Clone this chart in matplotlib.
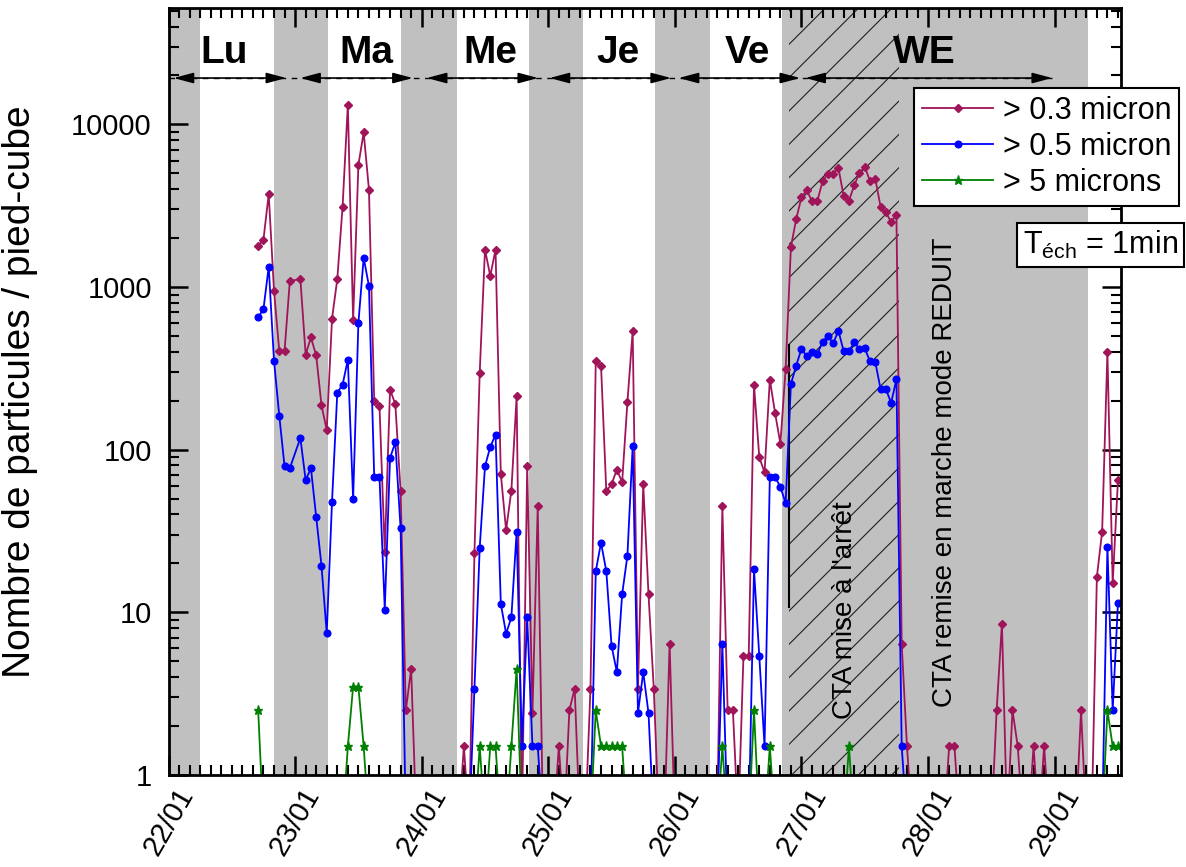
import numpy as np
import matplotlib
matplotlib.use('Agg')
import matplotlib.pyplot as plt
from matplotlib.lines import Line2D
from matplotlib.ticker import LogLocator, NullFormatter, MultipleLocator

plt.rcParams['font.family'] = ['Liberation Sans', 'DejaVu Sans']
plt.rcParams['mathtext.fontset'] = 'custom'
plt.rcParams['mathtext.rm'] = 'Liberation Sans'
plt.rcParams['hatch.linewidth'] = 0.8

# heures depuis le 22/01 00h (pas de mesure a 24h)
hours = list(range(17, 24)) + list(range(25, 181))

# > 0.3 micron
p03 = ([1780, 1955, 3730, 950, 405, 405, 1090]
       + [1120, 385, 490, 380, 188, 132, 640, 1120, 3120, 13200, 625, 5630,
          8930, 3980, 200, 186, 23.6, 234, 191, 56, 2.5, 4.5, 0]
       + [0] * 8 + [1.5, 0, 23.3, 297, 1700, 1170, 1700, 71, 32, 56, 213, 0,
                    79, 2.4, 45, 0]
       + [0, 0, 1.5, 0, 2.5, 3.4, 0, 0, 3.4, 349, 328, 55.5, 61.5, 75.5, 63,
          196, 535, 3.4, 61.5, 12.9, 3.4, 0, 0, 6.4]
       + [0] * 9 + [45, 2.5, 2.5, 0, 5.4, 5.4, 251, 90, 72.5, 270, 168, 109,
                    315, 1766, 2620]
       + [3570, 3945, 3374, 3374, 4480, 4990, 4990, 5410, 3620, 3400, 4220,
          5050, 5490, 4480, 4630, 3110, 2885, 2505, 2790, 6.4, 1.5, 0, 0, 0]
       + [0] * 4 + [1.5, 1.5] + [0] * 7 + [2.5, 8.5, 0, 2.5, 1.5, 0, 0, 1.5,
                                           0, 1.5, 0]
       + [0] * 5 + [2.5, 0, 0, 16.5, 31.4, 398, 15.1, 65])

# > 0.5 micron
p05 = ([653, 731, 1336, 353, 162, 79, 77]
       + [118, 65, 77, 38.7, 19.4, 7.45, 48, 224, 251, 358, 49.6, 600, 1514,
          1016, 68, 68, 10.4, 89, 111, 32.9, 0, 0, 0]
       + [0] * 10 + [3.4, 25, 79, 104, 124, 11.3, 7.4, 9.3, 31.4, 1.5, 9.3,
                     1.5, 1.5, 0]
       + [0] * 9 + [17.9, 26.8, 17.9, 6.2, 4.3, 12.9, 22.3, 105, 2.4, 4.3,
                    2.4, 0, 0, 0, 0]
       + [0] * 9 + [6.4, 0, 0, 0, 0, 0, 18.4, 5.4, 1.5, 68, 68, 59, 47, 254,
                    329]
       + [417, 375, 397, 390, 457, 503, 450, 540, 403, 403, 457, 417, 420,
          349, 345, 236, 236, 194, 272, 1.5, 0, 0, 0, 0]
       + [0] * 24
       + [0] * 10 + [25.4, 2.5, 11.4])

# > 5 microns
p5 = ([2.5, 0, 0, 0, 0, 0, 0]
      + [0] * 9 + [1.5, 3.5, 3.5, 1.5] + [0] * 10
      + [0] * 11 + [1.5, 0, 1.5, 1.5, 0, 0, 1.5, 4.5] + [0] * 5
      + [0] * 9 + [2.5, 1.5, 1.5, 1.5, 1.5, 1.5] + [0] * 9
      + [0] * 9 + [1.5, 0, 0, 0, 0, 0, 2.5, 0, 0, 1.5] + [0] * 5
      + [0] * 9 + [1.5] + [0] * 14
      + [0] * 24
      + [0] * 10 + [2.5, 1.5, 1.5])

dates = ['22/01', '23/01', '24/01', '25/01', '26/01', '27/01', '28/01', '29/01']
jours = ['Lu', 'Ma', 'Me', 'Je', 'Ve', 'WE']
jours_x = [0.44, 1.566, 2.546, 3.547, 4.573, 5.97]
# fleches par jour (en jours)
fleche_debut = [0.04, 1.04, 2.04, 3.01, 4.03, 5.03]
fleche_fin = [0.93, 1.93, 2.92, 3.97, 4.99, 6.98]
# periodes de jour (h)
jour_debut = [6.0, 30.2, 54.6, 78.5, 102.6, 174.3]
jour_fin = [20.0, 44.1, 68.3, 92.2, 116.3, 181.0]
cta_arret = [117.6, 138.4]

labels = ['> 0.3 micron', '> 0.5 micron', '> 5 microns']
couleurs = ['#A0145A', '#0000FF', '#008000']
marqueurs = ['D', 'o', '*']
tailles = [4.5, 4.8, 6.5]
plancher = 0.5  # valeurs nulles -> sous l'axe

fig = plt.figure(figsize=(11.86, 8.67), dpi=100)
ax = fig.add_axes([168.5 / 1186, 92 / 867, (1121 - 168.5) / 1186, 767 / 867])
ax.set_facecolor('#C0C0C0')

for d, f in zip(jour_debut, jour_fin):
    ax.axvspan(d / 24, f / 24, color='white', lw=0, zorder=0)
ax.axvspan(cta_arret[0] / 24, cta_arret[1] / 24, facecolor='none',
           edgecolor='#202020', hatch='/', lw=0, zorder=1)
ax.axvline(cta_arret[0] / 24, ymin=0.219, ymax=0.56, color='k', lw=1.5,
           zorder=1)

x = np.array(hours) / 24
for serie, c, m, s in zip([p03, p05, p5], couleurs, marqueurs, tailles):
    v = np.array(serie, dtype=float)
    v[v == 0] = plancher
    ax.plot(x, v, color=c, lw=1.3, marker=m, ms=s, mec=c, mfc=c, zorder=3)

ax.set_yscale('log')
ax.set_ylim(1, 52000)
ax.set_xlim(0, 7.524)
ax.set_yticks([1, 10, 100, 1000, 10000])
ax.set_yticklabels(['1', '10', '100', '1000', '10000'])
ax.yaxis.set_minor_locator(LogLocator(base=10, subs=np.arange(2, 10)))
ax.yaxis.set_minor_formatter(NullFormatter())
ax.set_xticks(range(len(dates)))
ax.set_xticklabels(dates, rotation=60, ha='center')
ax.xaxis.set_minor_locator(MultipleLocator(1 / 12))

ax.tick_params(which='both', direction='in', top=True, right=True,
               labelsize=21, width=1.8)
ax.tick_params(which='major', length=14)
ax.tick_params(which='minor', length=7, width=1.5)
ax.tick_params(axis='y', pad=12)
ax.tick_params(axis='x', pad=6)
for sp in ax.spines.values():
    sp.set_linewidth(2)
    sp.set_zorder(5)

ax.set_ylabel('Nombre de particules / pied-cube', fontsize=28)
ax.yaxis.set_label_coords(-0.137, 0.5)

# jours de la semaine
for j, xj in zip(jours, jours_x):
    ax.text(xj, 0.928, j, transform=ax.get_xaxis_transform(), ha='center',
            va='baseline', fontsize=28, fontweight='bold', zorder=4)
ax.plot([0, 6.98], [0.9087, 0.9087], transform=ax.get_xaxis_transform(),
        color='k', lw=1.0, ls=(0, (4, 4)), zorder=3)
for a, b in zip(fleche_debut, fleche_fin):
    ax.annotate('', xy=(b, 0.9087), xytext=(a, 0.9087),
                xycoords=('data', 'axes fraction'),
                textcoords=('data', 'axes fraction'),
                arrowprops=dict(arrowstyle='<|-|>,head_length=0.6,head_width=0.16',
                                color='k', lw=1.2, mutation_scale=20,
                                shrinkA=0, shrinkB=0), zorder=4)

ax.text(5.344, 0.215, "CTA mise à l'arrêt", transform=ax.get_xaxis_transform(),
        rotation=90, ha='center', va='center', fontsize=20, zorder=4)
ax.text(6.133, 0.395, 'CTA remise en marche mode REDUIT',
        transform=ax.get_xaxis_transform(), rotation=90, ha='center',
        va='center', fontsize=20, zorder=4)

poignees = [Line2D([], [], color=c, lw=1.3, marker=m, ms=s, mec=c, mfc=c)
            for c, m, s in zip(couleurs, marqueurs, tailles)]
leg = fig.legend(poignees, labels, loc='upper left',
                 bbox_to_anchor=(914 / 1186, 1 - 88 / 867), fontsize=22,
                 handlelength=2.35, handletextpad=0.3, borderpad=0.25,
                 labelspacing=0.2, numpoints=1, fancybox=False, framealpha=1,
                 edgecolor='k', borderaxespad=0)
leg.get_frame().set_linewidth(1.5)

fig.text(1178 / 1186, 1 - 245 / 867, r'T$_{\mathregular{éch}}$ = 1min',
         ha='right', va='center', fontsize=22,
         bbox=dict(boxstyle='square,pad=0.2', fc='white', ec='k', lw=1.5))

fig.savefig('out.png', dpi=100)
